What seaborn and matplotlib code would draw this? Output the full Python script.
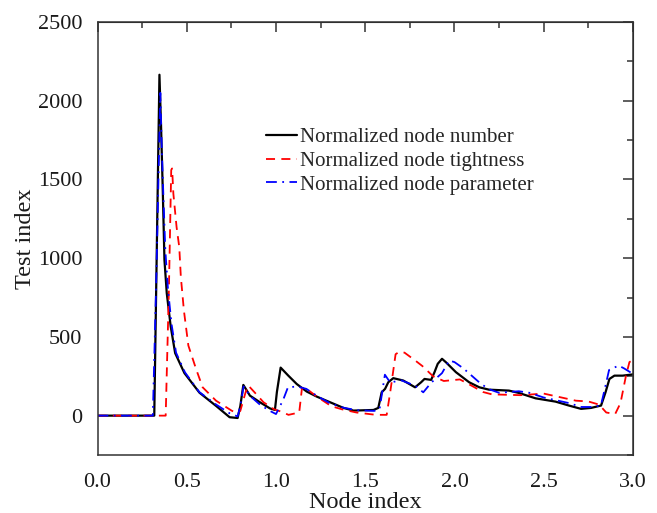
import numpy as np
import pandas as pd
import matplotlib
matplotlib.use("Agg")
import matplotlib.pyplot as plt
from matplotlib.ticker import MultipleLocator, FormatStrFormatter
import seaborn as sns

# %% data
number_x = [0, 0.318, 0.347, 0.356, 0.366, 0.375, 0.388, 0.41, 0.435, 0.487, 0.571, 0.665, 0.74, 0.785,
            0.80, 0.817, 0.854, 0.91, 0.966, 0.994, 1.005, 1.026, 1.069, 1.116, 1.172, 1.228, 1.303, 1.378,
            1.434, 1.546, 1.573, 1.592, 1.611, 1.629, 1.657, 1.713, 1.779, 1.813, 1.832, 1.869, 1.888, 1.906,
            1.93, 1.952, 2.008, 2.082, 2.139, 2.193, 2.305, 2.361, 2.454, 2.566, 2.641, 2.709, 2.765, 2.821,
            2.846, 2.868, 2.896, 2.942, 3.0]
number_y = [0, 0, 2165, 1840, 1415, 990, 778, 567, 397, 270, 146, 61, -10, -15,
            60, 195, 127, 85, 46, 36, 150, 305, 254, 201, 153, 121, 85, 49,
            32, 36, 49, 148, 170, 212, 238, 223, 180, 212, 233, 227, 276, 329,
            361, 339, 276, 212, 180, 165, 159, 144, 110, 89, 64, 43, 49, 64,
            148, 233, 254, 254, 262]

tight_x = [0, 0.36, 0.382, 0.40, 0.413, 0.418, 0.425, 0.443, 0.458, 0.467, 0.484, 0.509, 0.552, 0.589,
           0.664, 0.751, 0.78, 0.80, 0.83, 0.845, 0.88, 0.93, 0.99, 1.03, 1.07, 1.13, 1.145, 1.16, 1.23,
           1.31, 1.37, 1.45, 1.56, 1.62, 1.64, 1.67, 1.69, 1.72, 1.78, 1.82, 1.88, 1.94, 2.03, 2.08, 2.16,
           2.21, 2.37, 2.5, 2.62, 2.68, 2.75, 2.81, 2.85, 2.9, 2.93, 2.96, 2.98, 3.0]
tight_y = [0, 0, 0, 800, 1560, 1570, 1410, 1198, 1071, 880, 668, 445, 297, 180,
           95, 32, 15, 30, 150, 191, 148, 85, 40, 25, 5, 20, 170, 180, 120,
           60, 40, 20, 5, 5, 150, 390, 405, 400, 350, 315, 250, 220, 230, 200, 150,
           135, 130, 140, 110, 95, 90, 70, 20, 10, 80, 250, 340, 355]

param_x = [0, 0.31, 0.33, 0.352, 0.36, 0.372, 0.38, 0.395, 0.415, 0.44, 0.49, 0.57, 0.665, 0.74, 0.785,
           0.80, 0.818, 0.86, 0.91, 0.966, 1.0, 1.04, 1.067, 1.12, 1.17, 1.23, 1.30, 1.38, 1.45, 1.55,
           1.58, 1.61, 1.64, 1.70, 1.78, 1.825, 1.87, 1.93, 1.97, 2.0, 2.05, 2.096, 2.15, 2.2, 2.25, 2.36,
           2.42, 2.5, 2.58, 2.64, 2.71, 2.77, 2.82, 2.84, 2.866, 2.92, 2.95, 3.0]
param_y = [0, 0, 900, 2050, 1700, 1300, 1050, 800, 580, 400, 275, 150, 70, 15, -5,
           60, 185, 120, 70, 30, 10, 100, 180, 185, 170, 125, 80, 50, 35, 30,
           40, 260, 210, 225, 190, 148, 210, 270, 350, 340, 300, 254, 200, 165, 145, 155,
           145, 115, 95, 80, 55, 55, 64, 160, 290, 318, 300, 265]

labels = ['Normalized node number', 'Normalized node tightness', 'Normalized node parameter']

# %% plot
sns.set_style('white')
plt.rcParams['font.family'] = ['Liberation Serif', 'DejaVu Serif']

fig = plt.figure(figsize=(6.57, 5.13), dpi=100)
ax = fig.add_axes([97.5 / 657, 58 / 513, 535.5 / 657, 433 / 513])

sns.lineplot(x=number_x, y=number_y, ax=ax, color='black', lw=1.6, sort=False,
             estimator=None, label=labels[0])
sns.lineplot(x=tight_x, y=tight_y, ax=ax, color='#ff0000', lw=1.3, sort=False,
             estimator=None, label=labels[1], linestyle=(0, (5, 3.5)))
sns.lineplot(x=param_x, y=param_y, ax=ax, color='#0000ff', lw=1.3, sort=False,
             estimator=None, label=labels[2], linestyle=(0, (6, 3, 1, 3)))

ax.set_xlim(0, 3)
ax.set_ylim(-250, 2500)
ax.xaxis.set_major_locator(MultipleLocator(0.5))
ax.xaxis.set_minor_locator(MultipleLocator(0.25))
ax.yaxis.set_major_locator(MultipleLocator(500))
ax.yaxis.set_minor_locator(MultipleLocator(250))
ax.xaxis.set_major_formatter(FormatStrFormatter('%.1f'))

spine_c = '#333333'
for s in ax.spines.values():
    s.set_color(spine_c)
    s.set_linewidth(1.1)

ax.tick_params(which='both', direction='out', colors=spine_c, labelcolor='#1a1a1a',
               labelsize=16, width=1.1)
ax.tick_params(which='major', length=7)
ax.tick_params(which='minor', length=4)
ax.tick_params(axis='x', which='major', pad=6)
ax.tick_params(axis='y', which='major', pad=4)

# inward ticks on top and right
top = ax.secondary_xaxis('top')
top.xaxis.set_major_locator(MultipleLocator(0.5))
top.xaxis.set_minor_locator(MultipleLocator(0.25))
top.tick_params(which='both', direction='in', labeltop=False, colors=spine_c, width=1.1)
top.tick_params(which='major', length=7)
top.tick_params(which='minor', length=4)
right = ax.secondary_yaxis('right')
right.yaxis.set_major_locator(MultipleLocator(500))
right.yaxis.set_minor_locator(MultipleLocator(250))
right.tick_params(which='both', direction='in', labelright=False, colors=spine_c, width=1.1)
right.tick_params(which='major', length=7)
right.tick_params(which='minor', length=4)

ax.set_xlabel('Node index', fontsize=17.5, labelpad=0, color='#1a1a1a')
ax.set_ylabel('Test index', fontsize=17.5, labelpad=1, color='#1a1a1a')

ax.legend(loc='upper left', bbox_to_anchor=(0.295, 0.78), frameon=False, fontsize=15,
          handlelength=1.5, handletextpad=0.15, labelspacing=0.2, borderpad=0)

plt.savefig('out.png', dpi=100)
